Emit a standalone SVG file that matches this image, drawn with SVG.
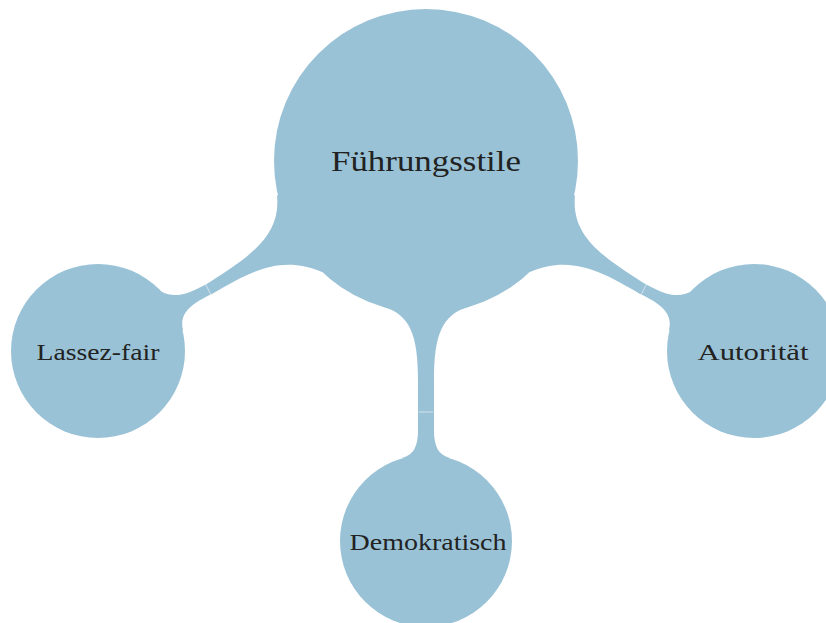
<svg xmlns="http://www.w3.org/2000/svg" width="826" height="623" viewBox="0 0 826 623">
  <style>
    .blob { fill: #9ac2d6; }
    .seam { stroke: #ffffff; stroke-width: 0.8; stroke-opacity: 0.7; fill: none; }
    .label { font-family: "Liberation Serif", "DejaVu Serif", serif; fill: #222222; text-anchor: middle; }
  </style>
  <rect width="826" height="623" fill="#ffffff"/>

  <!-- tapered branches between the root concept and its children -->
  <g id="connectors">
    <path class="blob" d="M 277,195 C 281,235 252,255 210,282 C 188,295 174,299 160,291 L 170,340 L 183,330 C 179,314 190,304 212,294 C 248,273 280,254 322,272 L 330,220 Z"/>
    <path class="blob" d="M 575,195 C 571,235 600,255 642,282 C 664,295 678,299 692,291 L 682,340 L 669,330 C 673,314 662,304 640,294 C 604,273 572,254 530,272 L 522,220 Z"/>
    <path class="blob" d="M 384,307 C 410,315 418,335 418,380 L 418,430 C 418,446 414,455 402,458 L 426,470 L 450,458 C 438,455 434,446 434,430 L 434,380 C 434,335 442,315 468,307 L 426,290 Z"/>
    <line class="seam" x1="205" y1="283" x2="211" y2="295"/>
    <line class="seam" x1="647" y1="283" x2="641" y2="295"/>
    <line class="seam" x1="419" y1="412" x2="433" y2="412" stroke-opacity="0.15"/>
  </g>

  <g id="root">
    <circle class="blob" cx="426" cy="161" r="152"/>
    <text class="label" x="426" y="171" font-size="29" textLength="190" lengthAdjust="spacingAndGlyphs">Führungsstile</text>
  </g>

  <g id="lassez-fair">
    <circle class="blob" cx="98" cy="351" r="87"/>
    <text class="label" x="98" y="360" font-size="23" textLength="123" lengthAdjust="spacingAndGlyphs">Lassez-fair</text>
  </g>

  <g id="autoritaer">
    <circle class="blob" cx="754" cy="351" r="87"/>
    <text class="label" x="753" y="360" font-size="23" textLength="111" lengthAdjust="spacingAndGlyphs">Autorität</text>
  </g>

  <g id="demokratisch">
    <circle class="blob" cx="426" cy="541" r="86"/>
    <text class="label" x="428" y="550" font-size="23" textLength="157" lengthAdjust="spacingAndGlyphs">Demokratisch</text>
  </g>
</svg>
